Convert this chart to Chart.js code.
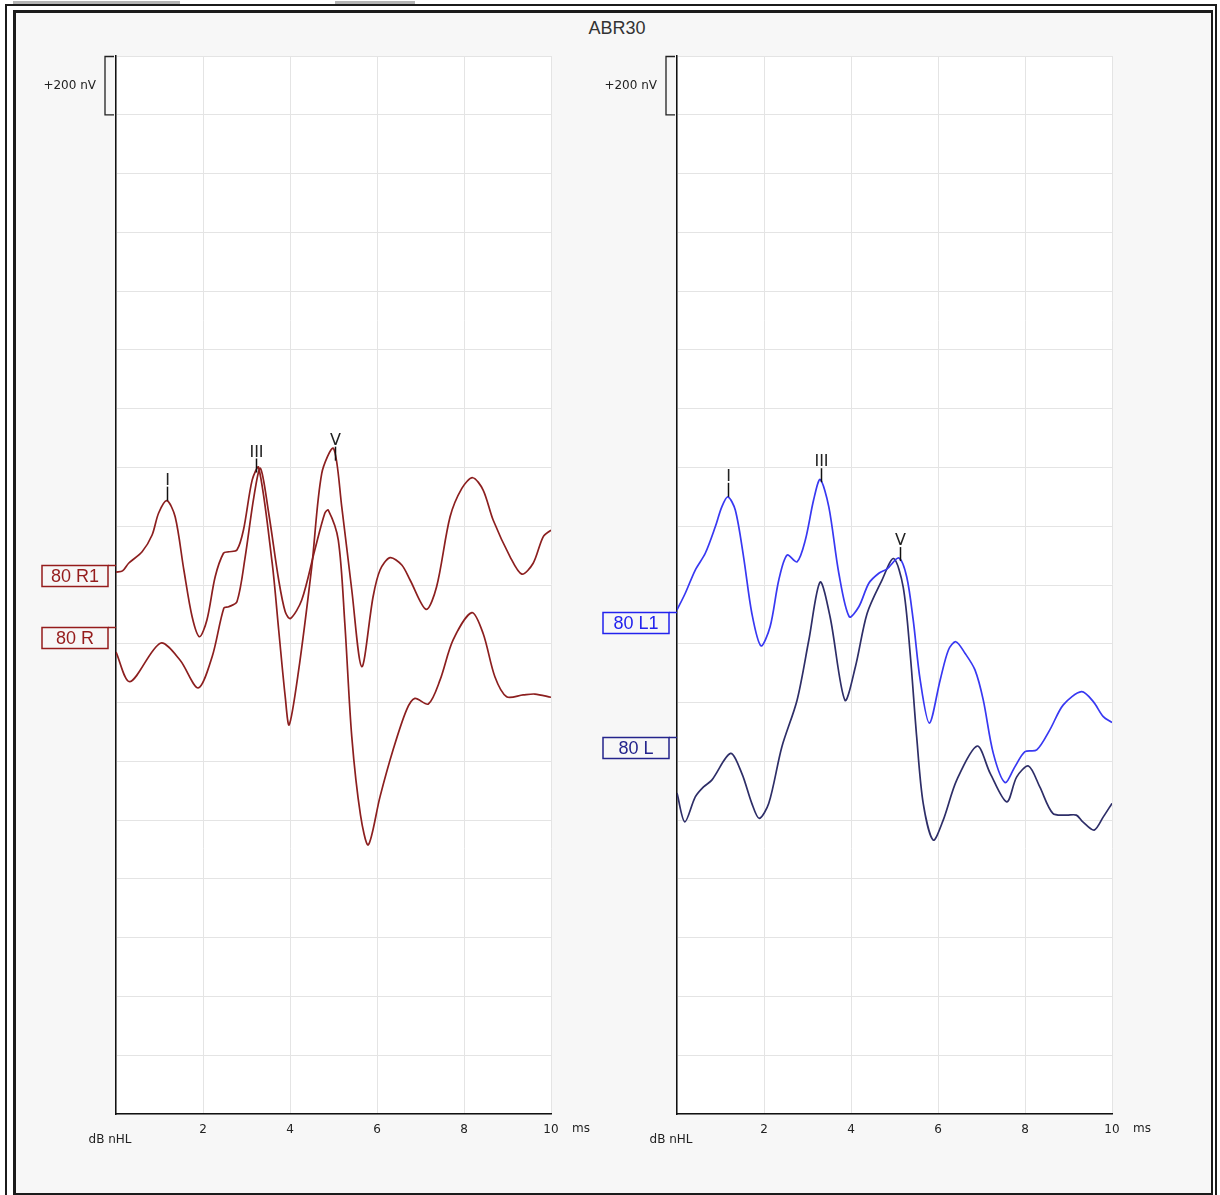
<!DOCTYPE html>
<html>
<head>
<meta charset="utf-8">
<title>ABR30</title>
<script src="https://cdn.jsdelivr.net/npm/chart.js@4.4.1/dist/chart.umd.min.js"></script>
<style>
  html, body { margin: 0; padding: 0; background: #fff; }
  #page { position: relative; width: 1220px; height: 1195px; overflow: hidden; }
  .tab { position: absolute; top: 1px; height: 3px; background: #b4b4b4; }
  #outer { position: absolute; left: 5px; top: 4px; width: 1212px; height: 1200px; border: 2px solid #1b1b1b; box-sizing: border-box; }
  #inner { position: absolute; left: 13px; top: 10px; width: 1200px; height: 1185px; background: #f7f7f7;
           border-left: 3px solid #1b1b1b; border-top: 3px solid #1b1b1b; border-right: 2px solid #1b1b1b; border-bottom: 2px solid #1b1b1b; box-sizing: border-box; }
  #title { position: absolute; left: 0; top: 18px; width: 1234px; text-align: center; font: 18px "Liberation Sans", Arial, sans-serif; color: #333; }
  canvas { position: absolute; top: 0; }
  #left { left: 0; }
  #right { left: 600px; }
</style>
</head>
<body>
<div id="page">
  <div class="tab" style="left:13px;width:167px"></div>
  <div class="tab" style="left:335px;width:80px"></div>
  <div id="outer"></div>
  <div id="inner"></div>
  <div id="title">ABR30</div>
  <canvas id="left" width="600" height="1195"></canvas>
  <canvas id="right" width="600" height="1195"></canvas>
</div>
<script>
// axis: ms along x, nV along y (one grid division = 200 nV)
const yMin = -1800, yMax = 1800, nvPerDiv = 200;
const xMin = 0, xMax = 10, xStep = 2;

// 80 R1 (right ear, repeat) - latency ms / amplitude nV
const r1Base = 44;
const r1Time = [0, 0.15, 0.29, 0.6, 0.83, 0.98, 1.17, 1.36, 1.56, 1.75, 1.92, 2.09, 2.28, 2.47, 2.59, 2.78, 2.93, 3.13, 3.28, 3.59, 3.74, 3.89, 3.98, 4.19, 4.5, 4.73, 5.0, 5.19, 5.42, 5.65, 5.91, 6.07, 6.3, 6.57, 6.76, 7.13, 7.37, 7.68, 7.95, 8.2, 8.44, 8.67, 9.06, 9.33, 9.59, 9.82, 10];
const r1Amp = [0, 4, 30, 69, 126, 201, 243, 188, 7, -152, -220, -163, -16, 64, 69, 75, 143, 313, 356, 31, -197, -424, -520, -343, 18, 336, 421, 222, -61, -322, -84, 7, 49, 24, -27, -127, -50, 188, 285, 321, 279, 177, 52, -7, 30, 120, 143];

// 80 R
const rBase = -228;
const rTime = [0, 0.32, 1.02, 1.47, 1.89, 2.21, 2.48, 2.59, 2.78, 2.97, 3.17, 3.32, 3.51, 3.74, 3.89, 4.01, 4.27, 4.57, 4.8, 4.88, 5.11, 5.26, 5.42, 5.62, 5.8, 6.07, 6.37, 6.68, 6.87, 7.18, 7.45, 7.75, 8.18, 8.44, 8.71, 8.98, 9.36, 9.63, 10];
const rAmp = [0, -101, 30, -27, -122, -16, 150, 154, 171, 324, 528, 625, 473, 245, 137, 114, 177, 347, 472, 483, 381, 98, -288, -554, -656, -492, -333, -197, -158, -177, -95, 41, 134, 63, -84, -152, -146, -143, -154];

// 80 L1
const l1Base = -85;
const l1Time = [0, 0.19, 0.42, 0.65, 0.88, 1.03, 1.17, 1.34, 1.53, 1.72, 1.93, 2.14, 2.34, 2.53, 2.76, 2.95, 3.14, 3.29, 3.49, 3.72, 3.96, 4.18, 4.41, 4.64, 4.83, 5.1, 5.28, 5.43, 5.59, 5.8, 6.05, 6.24, 6.41, 6.62, 6.85, 7.04, 7.27, 7.54, 7.77, 8.0, 8.27, 8.57, 8.88, 9.3, 9.57, 9.8, 10];
const l1Amp = [0, 57, 136, 193, 283, 351, 385, 340, 181, -11, -122, -57, 102, 187, 164, 238, 374, 444, 351, 125, -23, 11, 91, 125, 140, 177, 113, -34, -238, -385, -238, -136, -108, -147, -204, -306, -487, -587, -533, -482, -476, -408, -323, -278, -312, -363, -383];

// 80 L
const lBase = -708;
const lTime = [0, 0.18, 0.42, 0.61, 0.8, 1.23, 1.49, 1.72, 1.89, 2.11, 2.41, 2.76, 3.03, 3.29, 3.52, 3.86, 4.1, 4.37, 4.71, 4.98, 5.2, 5.36, 5.51, 5.66, 5.89, 6.12, 6.43, 6.9, 7.2, 7.58, 7.81, 8.08, 8.34, 8.64, 8.95, 9.18, 9.33, 9.59, 9.8, 10];
const lAmp = [0, -98, -13, 21, 44, 135, 67, -35, -86, -35, 157, 316, 520, 718, 599, 316, 429, 611, 724, 798, 701, 475, 191, -35, -160, -92, 44, 160, 67, -30, 55, 92, 21, -69, -75, -75, -98, -126, -81, -35];

// trace labels at the left of each panel (nV on the axis)
const leftLabels = ['80 R1', '80 R'];
const leftLabelPos = [68, -143];
const rightLabels = ['80 L1', '80 L'];
const rightLabelPos = [-92, -517];

// wave markers (ms)
const waveNames = ['I', 'III', 'V'];
const leftWaveTimes = [1.17, 3.22, 5.04];
const rightWaveTimes = [1.17, 3.31, 5.13];

function valueAt(ts, vs, t) {
    for (let i = 1; i < ts.length; i++) {
        if (t <= ts[i]) {
            const f = (t - ts[i - 1]) / (ts[i] - ts[i - 1]);
            return vs[i - 1] + f * (vs[i] - vs[i - 1]);
        }
    }
    return vs[vs.length - 1];
}

const smallFont = '12px "DejaVu Sans", sans-serif';

// white plot area, nV bracket, unit labels, trace labels and wave markers
const abrOverlay = {
    id: 'abrOverlay',
    beforeDraw(chart) {
        const a = chart.chartArea, ctx = chart.ctx;
        ctx.save();
        ctx.fillStyle = '#ffffff';
        ctx.fillRect(a.left, a.top, a.right - a.left, a.bottom - a.top);
        ctx.restore();
    },
    afterDraw(chart, args, opts) {
        const ctx = chart.ctx, a = chart.chartArea;
        const x = chart.scales.x, y = chart.scales.y;
        ctx.save();

        // +200 nV bracket
        const yTop = y.getPixelForValue(yMax), yBot = y.getPixelForValue(yMax - nvPerDiv);
        const bx = a.left - 11;
        ctx.strokeStyle = '#222';
        ctx.lineWidth = 1.3;
        ctx.beginPath();
        ctx.moveTo(a.left - 2, yTop + 0.5);
        ctx.lineTo(bx, yTop + 0.5);
        ctx.lineTo(bx, yBot);
        ctx.lineTo(a.left - 2, yBot);
        ctx.stroke();
        ctx.fillStyle = '#222';
        ctx.font = smallFont;
        ctx.textAlign = 'right';
        ctx.textBaseline = 'middle';
        ctx.fillText('+200 nV', bx - 9, (yTop + yBot) / 2);

        // units
        ctx.textAlign = 'left';
        ctx.fillText('ms', x.getPixelForValue(xMax) + 21, a.bottom + 15);
        ctx.textAlign = 'center';
        ctx.fillText('dB nHL', a.left - 6, a.bottom + 26);

        // trace labels
        opts.labels.forEach((txt, i) => {
            const yy = Math.round(y.getPixelForValue(opts.labelPos[i])) + 0.5;
            const right = a.left - 8, w = 66, h = 21;
            ctx.strokeStyle = opts.labelColors[i];
            ctx.lineWidth = 1.5;
            ctx.strokeRect(right - w, yy, w, h);
            ctx.beginPath();
            ctx.moveTo(right, yy);
            ctx.lineTo(a.left, yy);
            ctx.stroke();
            ctx.fillStyle = opts.labelColors[i];
            ctx.font = '18px "Liberation Sans", Arial, sans-serif';
            ctx.textAlign = 'center';
            ctx.textBaseline = 'middle';
            ctx.fillText(txt, right - w / 2, yy + h / 2 + 1);
        });

        // wave markers on the first trace
        const tr = opts.markTrace;
        opts.waveTimes.forEach((t, i) => {
            const px = Math.round(x.getPixelForValue(t)) + 0.5;
            const py = y.getPixelForValue(tr.base + valueAt(tr.time, tr.amp, t));
            ctx.strokeStyle = '#111';
            ctx.lineWidth = 1.5;
            ctx.beginPath();
            ctx.moveTo(px, py);
            ctx.lineTo(px, py - 14);
            ctx.stroke();
            ctx.fillStyle = '#222';
            ctx.font = '16px "DejaVu Sans", sans-serif';
            ctx.textAlign = 'center';
            ctx.textBaseline = 'bottom';
            ctx.fillText(waveNames[i], px, py - 12);
        });
        ctx.restore();
    }
};

function makeChart(id, traces, padLeft, padRight, labels, labelPos, labelColors, waveTimes) {
    const datasets = traces.map(tr => ({
        data: tr.time.map((t, i) => ({ x: t, y: tr.base + tr.amp[i] })),
        borderColor: tr.color,
        borderWidth: 1.7,
        pointRadius: 0,
        fill: false,
        tension: 0.3
    }));
    new Chart(document.getElementById(id), {
        type: 'line',
        data: { datasets: datasets },
        plugins: [abrOverlay],
        options: {
            responsive: false,
            animation: false,
            events: [],
            layout: { padding: { left: padLeft, right: padRight, top: 56, bottom: 61 } },
            scales: {
                x: {
                    type: 'linear',
                    min: xMin, max: xMax,
                    afterFit: s => { s.height = 20; },
                    grid: { color: '#e4e4e4', drawTicks: false },
                    border: { color: '#111', width: 1.5 },
                    ticks: {
                        stepSize: xStep, padding: 9, color: '#222',
                        font: { family: '"DejaVu Sans", sans-serif', size: 12 },
                        maxRotation: 0,
                        callback: v => (v === 0 ? '' : v)
                    }
                },
                y: {
                    type: 'linear',
                    min: yMin, max: yMax,
                    afterFit: s => { s.width = 0; },
                    grid: { color: '#e4e4e4', drawTicks: false },
                    border: { color: '#111', width: 1.5 },
                    ticks: { stepSize: nvPerDiv, display: false }
                }
            },
            plugins: {
                legend: { display: false },
                tooltip: { enabled: false },
                abrOverlay: {
                    labels: labels, labelPos: labelPos, labelColors: labelColors,
                    waveTimes: waveTimes, markTrace: traces[0]
                }
            }
        }
    });
}

const rightEar = [
    { time: r1Time, amp: r1Amp, base: r1Base, color: '#8c1f1f' },
    { time: rTime, amp: rAmp, base: rBase, color: '#8c1f1f' }
];
const leftEar = [
    { time: l1Time, amp: l1Amp, base: l1Base, color: '#3838f2' },
    { time: lTime, amp: lAmp, base: lBase, color: '#2e2e68' }
];

makeChart('left', rightEar, 116, 49, leftLabels, leftLabelPos, ['#951c1c', '#951c1c'], leftWaveTimes);
makeChart('right', leftEar, 77, 88, rightLabels, rightLabelPos, ['#2222ee', '#24248c'], rightWaveTimes);
</script>
</body>
</html>
